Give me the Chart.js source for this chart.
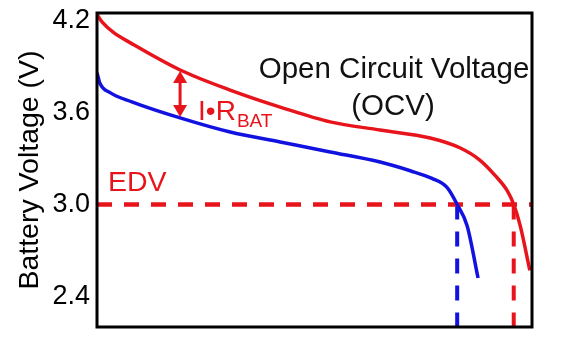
<!DOCTYPE html>
<html>
<head>
<meta charset="utf-8">
<script src="https://cdn.jsdelivr.net/npm/chart.js@4/dist/chart.umd.min.js"></script>
<style>
  html, body { margin: 0; padding: 0; background: #fff; }
  #wrap { width: 583px; height: 338px; }
</style>
</head>
<body>
<div id="wrap"><canvas id="c" width="583" height="338"></canvas></div>
<script>
// ---- data ----
const ocvX = [0, 1.2, 3.7, 8, 19.1, 30.6, 42.1, 53.6, 65.1, 76.6, 83.4, 88, 91.5, 94.3, 95.8, 97.3, 99.5];
const ocvV = [4.24, 4.19, 4.125, 4.05, 3.878, 3.747, 3.636, 3.539, 3.486, 3.434, 3.37, 3.29, 3.19, 3.09, 3.0, 2.86, 2.57];
const loadX = [0, 0.7, 3, 8, 19.1, 30.6, 42.1, 53.6, 65.1, 72, 77, 80.5, 82.8, 85.1, 87.6];
const loadV = [3.86, 3.79, 3.73, 3.67, 3.565, 3.473, 3.408, 3.343, 3.277, 3.22, 3.17, 3.11, 3.0, 2.86, 2.52];
const edvV = 3.0;
const loadEndX = 82.8;
const ocvEndX = 95.8;
const arrowX = 19.1;
const arrowTop = 3.878;
const arrowBottom = 3.565;
const yTicks = [2.4, 3.0, 3.6, 4.2];
const yMin = 2.2, yMax = 4.25;

const RED = '#e8141c';
const BLUE = '#1212e0';
const FONT = '"Liberation Sans", Arial, Helvetica, sans-serif';

const pts = (xs, ys) => xs.map((x, i) => ({ x, y: ys[i] }));

const annot = {
  id: 'annot',
  afterDatasetsDraw(chart) {
    const { ctx, chartArea: a, scales: { x, y } } = chart;
    ctx.save();
    // frame
    ctx.strokeStyle = '#000';
    ctx.lineWidth = 3;
    ctx.strokeRect(a.left, a.top, a.right - a.left, a.bottom - a.top);

    // double arrow
    const ax = x.getPixelForValue(arrowX);
    const y1 = y.getPixelForValue(arrowTop) + 1;
    const y2 = y.getPixelForValue(arrowBottom) - 1;
    const hw = 7, hh = 12;
    ctx.strokeStyle = RED; ctx.fillStyle = RED; ctx.lineWidth = 3;
    ctx.beginPath(); ctx.moveTo(ax, y1 + hh - 2); ctx.lineTo(ax, y2 - hh + 2); ctx.stroke();
    ctx.beginPath(); ctx.moveTo(ax, y1); ctx.lineTo(ax - hw, y1 + hh); ctx.lineTo(ax + hw, y1 + hh); ctx.closePath(); ctx.fill();
    ctx.beginPath(); ctx.moveTo(ax, y2); ctx.lineTo(ax - hw, y2 - hh); ctx.lineTo(ax + hw, y2 - hh); ctx.closePath(); ctx.fill();

    // labels
    ctx.textBaseline = 'alphabetic';
    ctx.fillStyle = RED;
    ctx.textAlign = 'left';
    ctx.font = '28px ' + FONT;
    const irLeft = ax + 18;
    ctx.fillText('I\u2022R', irLeft, 120);
    const w = ctx.measureText('I\u2022R').width;
    ctx.font = '19px ' + FONT;
    ctx.fillText('BAT', irLeft + w + 1, 127);

    ctx.font = '28.5px ' + FONT;
    ctx.fillText('EDV', 108, 191);

    ctx.fillStyle = '#111';
    ctx.textAlign = 'center';
    ctx.font = '29.5px ' + FONT;
    ctx.fillText('Open Circuit Voltage', 394, 78);
    ctx.fillText('(OCV)', 393, 115);
    ctx.restore();
  }
};

new Chart(document.getElementById('c'), {
  type: 'line',
  data: {
    datasets: [
      { data: pts(ocvX, ocvV), borderColor: RED, borderWidth: 3.5, cubicInterpolationMode: 'monotone', pointRadius: 0 },
      { data: pts(loadX, loadV), borderColor: BLUE, borderWidth: 3.5, cubicInterpolationMode: 'monotone', pointRadius: 0 },
      { data: [{ x: 0, y: edvV }, { x: 100, y: edvV }], borderColor: RED, borderWidth: 4.5, borderDash: [15, 12], pointRadius: 0 },
      { data: [{ x: loadEndX, y: edvV }, { x: loadEndX, y: yMin }], borderColor: BLUE, borderWidth: 4, borderDash: [15, 12], pointRadius: 0 },
      { data: [{ x: ocvEndX, y: edvV }, { x: ocvEndX, y: yMin }], borderColor: RED, borderWidth: 4, borderDash: [15, 12], pointRadius: 0 }
    ]
  },
  options: {
    responsive: false,
    animation: false,
    events: [],
    layout: { padding: { left: 0, right: 51, top: 13, bottom: 11 } },
    plugins: { legend: { display: false }, tooltip: { enabled: false } },
    scales: {
      x: { type: 'linear', min: 0, max: 100, display: false },
      y: {
        type: 'linear', min: yMin, max: yMax,
        afterBuildTicks: s => { s.ticks = yTicks.map(v => ({ value: v })); },
        afterFit: s => { s.width = 97; s.paddingTop = 0; s.paddingBottom = 0; },
        grid: { display: false, drawTicks: false },
        border: { display: false },
        ticks: { color: '#000', padding: 7, font: { family: FONT, size: 27 }, callback: v => Number(v).toFixed(1) },
        title: { display: true, text: 'Battery Voltage (V)', color: '#000', font: { family: FONT, size: 28.5 }, padding: { top: 13, bottom: 0 } }
      }
    }
  },
  plugins: [annot]
});
</script>
</body>
</html>
